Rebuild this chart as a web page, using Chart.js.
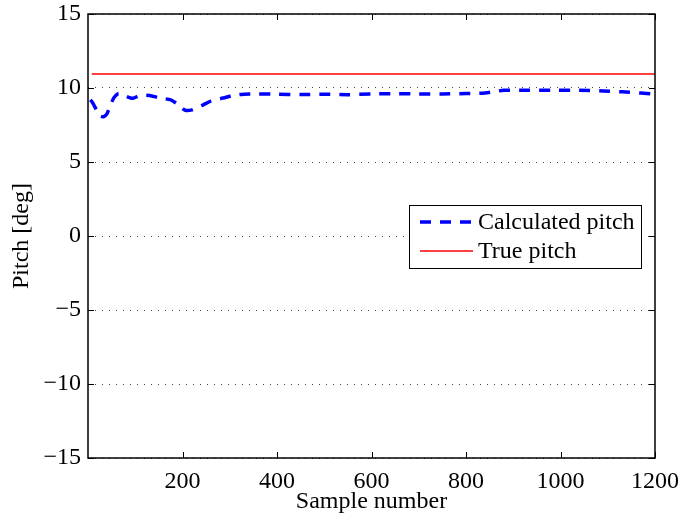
<!DOCTYPE html>
<html>
<head>
<meta charset="utf-8">
<script src="https://cdn.jsdelivr.net/npm/chart.js@4"></script>
<style>
  html, body { margin: 0; padding: 0; background: #fff; }
  #wrap { width: 680px; height: 522px; }
</style>
</head>
<body>
<div id="wrap"><canvas id="pitchChart" width="680" height="522"></canvas></div>
<script>
// sample numbers and calculated pitch
const samples = [5, 10, 18, 25, 33, 40, 47, 55, 64, 73, 80, 95, 110, 130, 152, 175, 190, 205, 220, 240,
  262, 286, 307, 330, 360, 400, 450, 500, 550, 600, 650, 700, 750, 800, 840, 865, 880, 920, 980,
  1040, 1090, 1130, 1170, 1195];
const calculatedPitch = [9.2, 9.0, 8.5, 8.12, 8.06, 8.25, 8.8, 9.35, 9.62, 9.58, 9.45, 9.3, 9.5, 9.5,
  9.32, 9.2, 8.9, 8.5, 8.52, 8.8, 9.15, 9.32, 9.5, 9.58, 9.6, 9.58, 9.56, 9.58, 9.55, 9.6, 9.62,
  9.6, 9.6, 9.62, 9.66, 9.78, 9.85, 9.85, 9.84, 9.85, 9.8, 9.74, 9.66, 9.6];

const trueSamples = [8, 1200];
const truePitch = [10.95, 10.95];

const xTicks = [200, 400, 600, 800, 1000, 1200];
const yTicks = [-15, -10, -5, 0, 5, 10, 15];

const serif = "'Liberation Serif', 'Times New Roman', serif";
const fontSize = 24;

function toPoints(xs, ys) {
  return xs.map((x, i) => ({ x: x, y: ys[i] }));
}

// inside tick marks and the black box round the plot
const boxPlugin = {
  id: "box",
  afterDatasetsDraw(chart) {
    const ctx = chart.ctx;
    const a = chart.chartArea;
    const xs = chart.scales.x;
    const ys = chart.scales.y;
    ctx.save();
    ctx.strokeStyle = "#000";
    ctx.lineWidth = 1;
    ctx.beginPath();
    xTicks.forEach(function (v) {
      const px = Math.round(xs.getPixelForValue(v)) + 0.5;
      ctx.moveTo(px, a.bottom);
      ctx.lineTo(px, a.bottom - 6);
      ctx.moveTo(px, a.top);
      ctx.lineTo(px, a.top + 6);
    });
    yTicks.forEach(function (v) {
      const py = Math.round(ys.getPixelForValue(v)) + 0.5;
      ctx.moveTo(a.left, py);
      ctx.lineTo(a.left + 6, py);
      ctx.moveTo(a.right, py);
      ctx.lineTo(a.right - 6, py);
    });
    ctx.stroke();
    ctx.lineWidth = 1.5;
    ctx.strokeRect(a.left, a.top, a.right - a.left, a.bottom - a.top);
    ctx.restore();
  },
};

// legend box inside the plot, as in the figure
const legendPlugin = {
  id: "boxLegend",
  afterDraw(chart) {
    const ctx = chart.ctx;
    const x0 = 409, y0 = 205, w = 232, h = 63;
    ctx.save();
    ctx.fillStyle = "#fff";
    ctx.fillRect(x0, y0, w, h);
    ctx.strokeStyle = "#000";
    ctx.lineWidth = 1;
    ctx.strokeRect(x0 + 0.5, y0 + 0.5, w, h);

    const items = chart.data.datasets;
    const rows = [222, 251];
    items.forEach(function (ds, i) {
      ctx.beginPath();
      ctx.strokeStyle = ds.borderColor;
      ctx.lineWidth = ds.borderWidth;
      ctx.setLineDash(ds.borderDash || []);
      ctx.moveTo(420, rows[i]);
      ctx.lineTo(473, rows[i]);
      ctx.stroke();
      ctx.setLineDash([]);
      ctx.fillStyle = "#000";
      ctx.font = fontSize + "px " + serif;
      ctx.textBaseline = "middle";
      ctx.textAlign = "left";
      ctx.fillText(ds.label, 478, rows[i] + 1);
    });
    ctx.restore();
  },
};

const ctx = document.getElementById("pitchChart");

new Chart(ctx, {
  type: "line",
  data: {
    datasets: [
      {
        label: "Calculated pitch",
        data: toPoints(samples, calculatedPitch),
        borderColor: "#0000ff",
        borderWidth: 3.5,
        borderDash: [11, 9],
        pointRadius: 0,
        tension: 0.25,
        fill: false,
      },
      {
        label: "True pitch",
        data: toPoints(trueSamples, truePitch),
        borderColor: "#ff0000",
        borderWidth: 1.5,
        pointRadius: 0,
        fill: false,
      },
    ],
  },
  options: {
    responsive: false,
    animation: false,
    layout: { padding: { top: 14, right: 25, left: 0, bottom: 0 } },
    plugins: {
      legend: { display: false },
      tooltip: { enabled: false },
    },
    scales: {
      x: {
        type: "linear",
        min: 0,
        max: 1200,
        afterFit: function (s) {
          s.height = 64;
          s.paddingLeft = 0;
          s.paddingRight = 0;
        },
        afterBuildTicks: function (s) {
          s.ticks = [0].concat(xTicks).map(function (v) { return { value: v }; });
        },
        ticks: {
          color: "#000",
          font: { family: serif, size: fontSize },
          padding: 9,
          maxRotation: 0,
          callback: function (v) { return v === 0 ? "" : String(v); },
        },
        grid: { display: false, drawTicks: false },
        border: { display: false },
        title: {
          display: true,
          text: "Sample number",
          color: "#000",
          font: { family: serif, size: fontSize },
          padding: { top: 0, bottom: 6 },
        },
      },
      y: {
        min: -15,
        max: 15,
        afterFit: function (s) {
          s.width = 88;
          s.paddingTop = 0;
          s.paddingBottom = 0;
        },
        afterBuildTicks: function (s) {
          s.ticks = yTicks.map(function (v) { return { value: v }; });
        },
        ticks: {
          color: "#000",
          font: { family: serif, size: fontSize },
          padding: 7,
          callback: function (v) { return v < 0 ? "\u2212" + Math.abs(v) : String(v); },
        },
        grid: { color: "#444", lineWidth: 1, drawTicks: false },
        border: { display: false, dash: [1, 6] },
        title: {
          display: true,
          text: "Pitch [deg]",
          color: "#000",
          font: { family: serif, size: fontSize },
          padding: { top: 7, bottom: 0 },
        },
      },
    },
  },
  plugins: [boxPlugin, legendPlugin],
});
</script>
</body>
</html>
